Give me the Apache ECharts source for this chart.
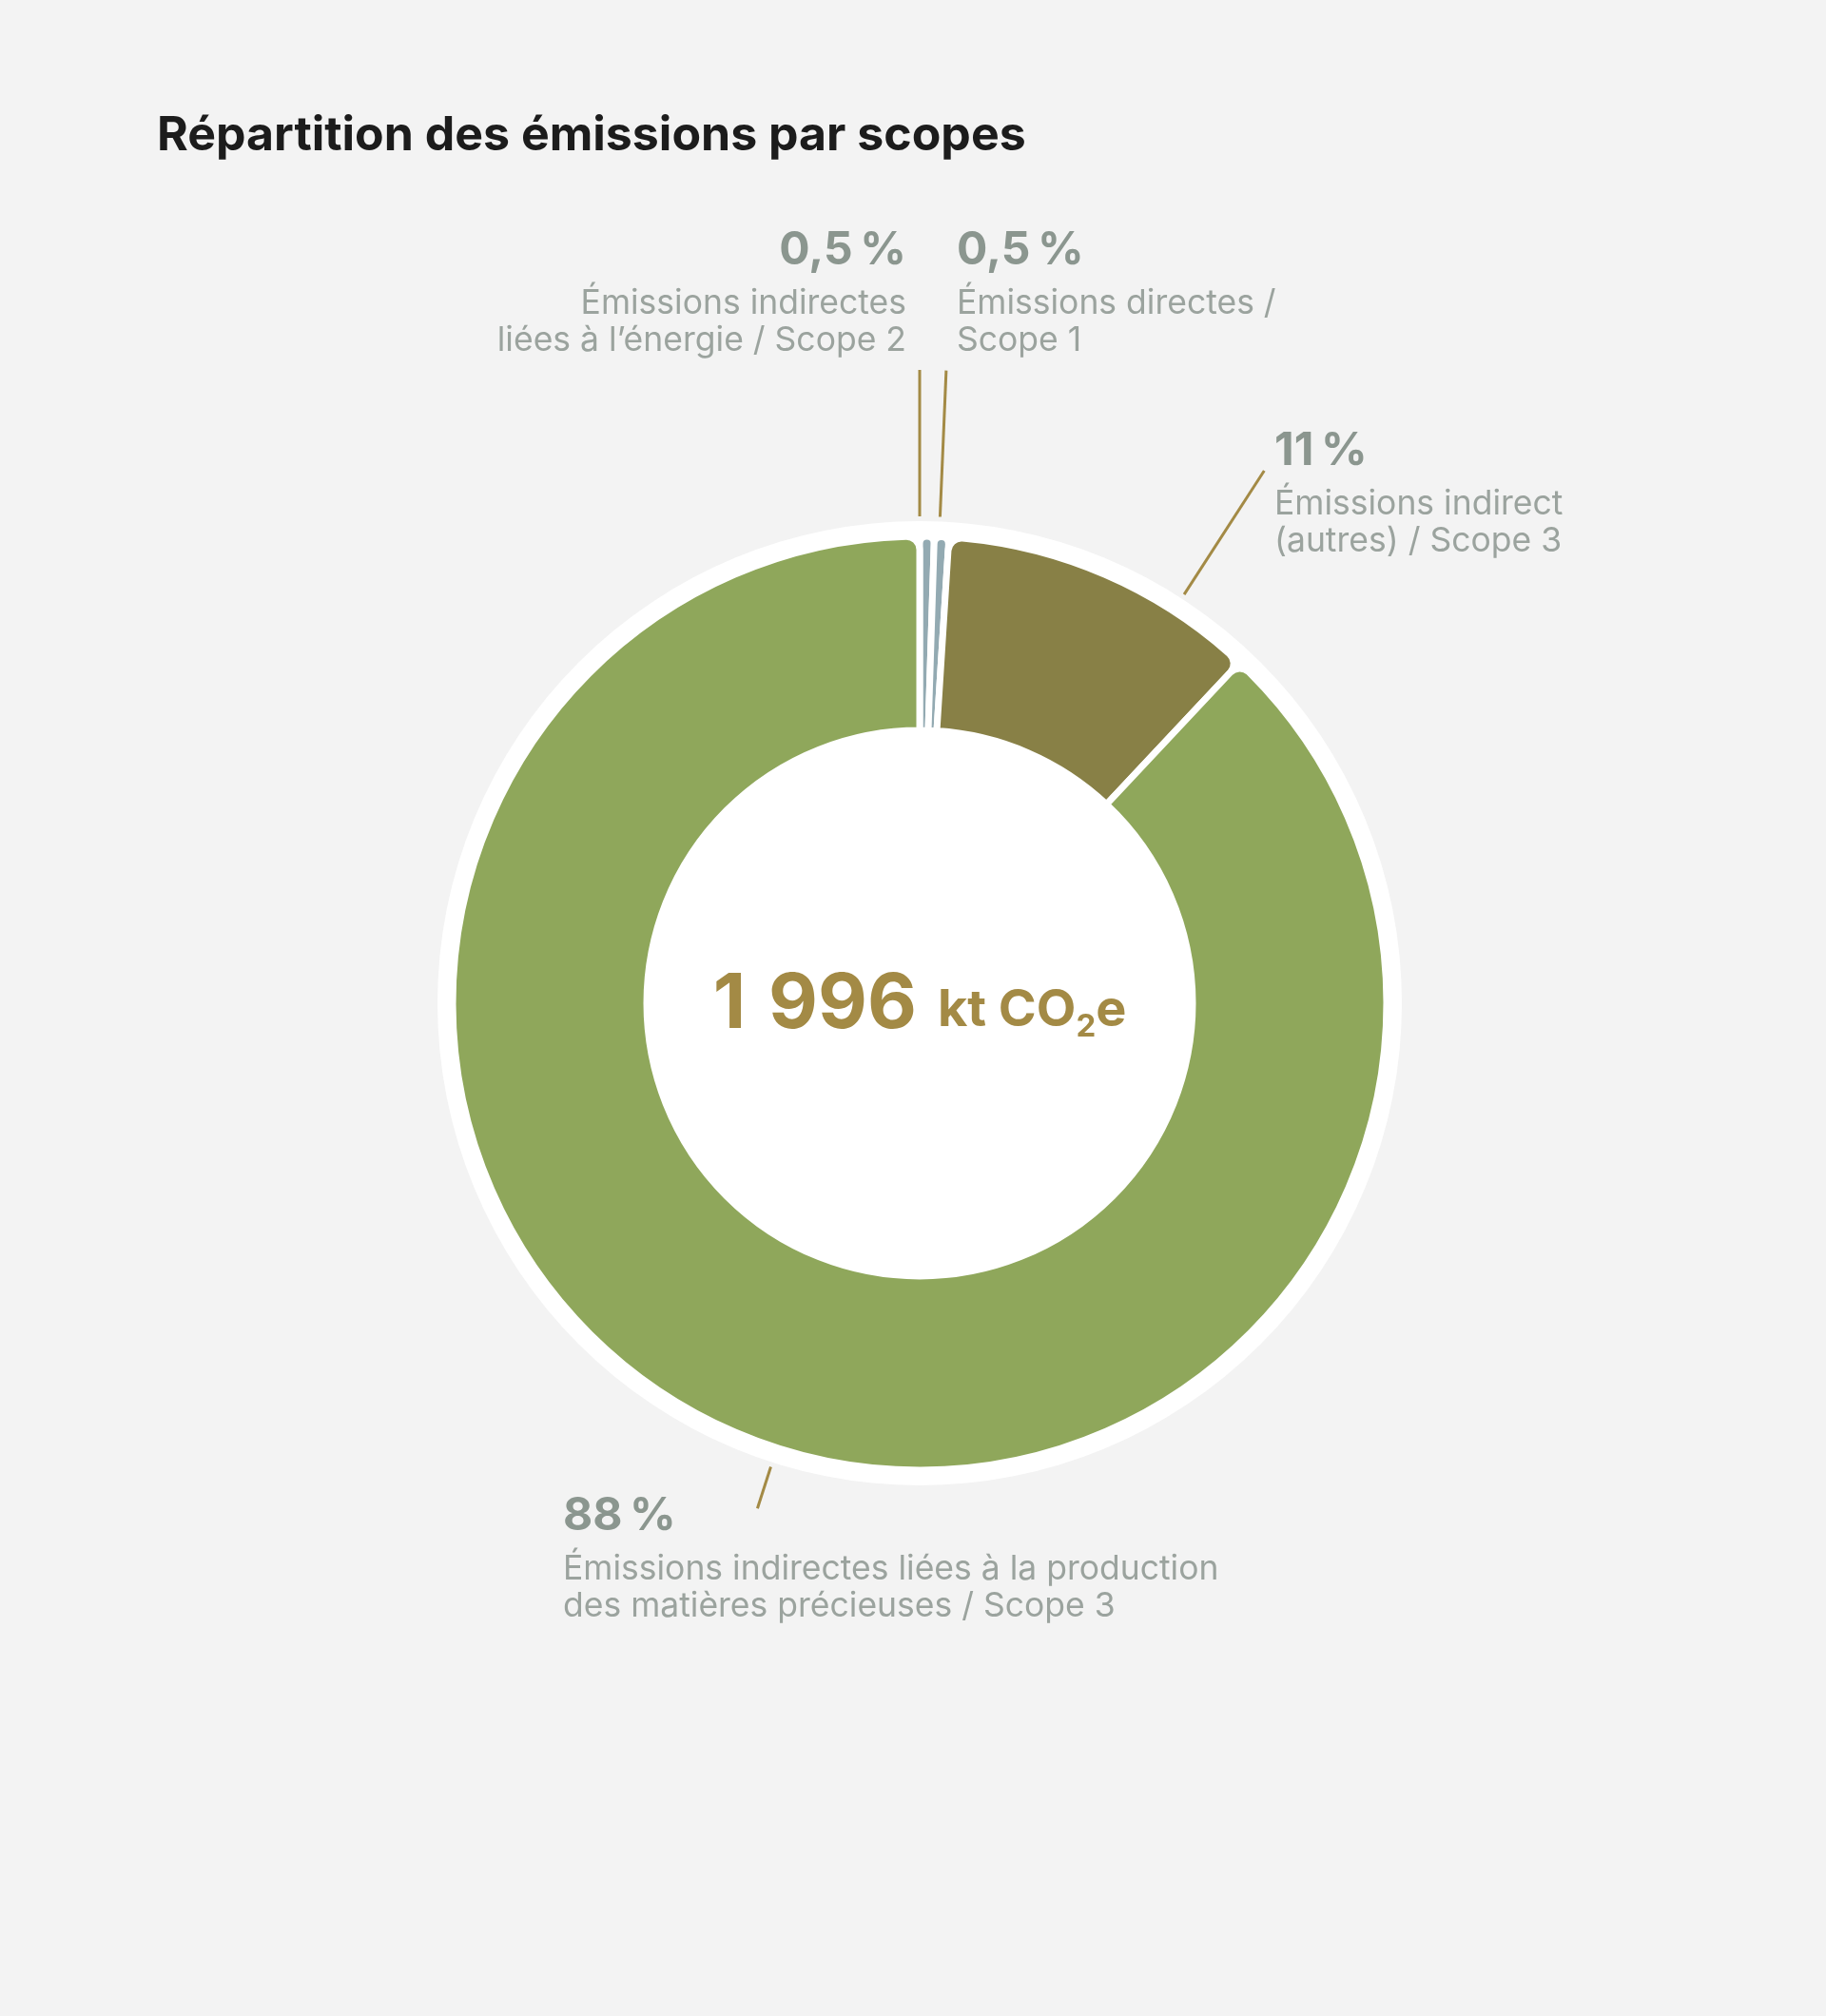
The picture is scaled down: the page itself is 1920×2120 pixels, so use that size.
<!DOCTYPE html>
<html>
<head>
<meta charset="utf-8">
<script src="https://cdn.jsdelivr.net/npm/echarts@6/dist/echarts.min.js"></script>
<style>
html,body{margin:0;padding:0;background:#f3f3f3;}
#chart{width:1920px;height:2120px;}
</style>
</head>
<body>
<div id="chart"></div>
<script>
// ---- data ----
const chartTitle = 'Répartition des émissions par scopes';
const categories = [
  'Émissions indirectes\nliées à l’énergie / Scope 2',
  'Émissions directes /\nScope 1',
  'Émissions indirect\n(autres) / Scope 3',
  'Émissions indirectes liées à la production\ndes matières précieuses / Scope 3'
];
const values = [0.5, 0.5, 11, 88];
const percentLabels = ['0,5\u202F%', '0,5\u202F%', '11\u202F%', '88\u202F%'];
const totalValueParts = ['1', '996'];
const totalUnit = ['kt CO', '2', 'e'];

// ---- styles / layout ----
const sliceColors = ['#93aab2', '#93aab2', '#888046', '#8fa75b'];
const CX = 967, CY = 1055;
const labelAnchors = [
  {x: 953, y: 228, align: 'right', angle: 0, r2: 666},
  {x: 1006, y: 228, align: 'left', angle: 2.4, r2: 666},
  {x: 1340, y: 439, align: 'left', angle: 32.9, r2: 667},
  {x: 592, y: 1559, align: 'left', angle: 197.8, r2: 558}
];
const LINE_R1 = 512;

function polar(angleDeg, r) {
  const a = angleDeg * Math.PI / 180;
  return [CX + r * Math.sin(a), CY - r * Math.cos(a)];
}

const chart = echarts.init(document.getElementById('chart'), null, {renderer: 'canvas'});

const pieData = values.map((v, i) => ({
  value: v,
  name: categories[i],
  itemStyle: {color: sliceColors[i]}
}));

const option = {
  backgroundColor: '#f3f3f3',
  animation: false,
  title: {
    text: chartTitle,
    left: 160,
    top: 113,
    textStyle: {fontFamily: 'Inter', fontWeight: 700, fontSize: 50, color: '#1c1c1c'}
  },
  graphic: [{
    type: 'text',
    x: CX,
    y: CY - 8,
    z: 100,
    style: {
      text: '{n|' + totalValueParts[0] + '}{h| }{n|' + totalValueParts[1] + '}{g| }{u|' + totalUnit[0] + '}{s|' + totalUnit[1] + '}{u|' + totalUnit[2] + '}',
      align: 'center',
      verticalAlign: 'middle',
      rich: {
        n: {fontFamily: 'Inter', fontWeight: 700, fontSize: 80, fill: '#a38a45', verticalAlign: 'bottom', lineHeight: 100},
        h: {fontFamily: 'Inter', fontSize: 40, width: 24, verticalAlign: 'bottom', lineHeight: 100},
        g: {fontFamily: 'Inter', fontSize: 40, width: 22, verticalAlign: 'bottom', lineHeight: 100},
        u: {fontFamily: 'Inter', fontWeight: 700, fontSize: 54, fill: '#a38a45', verticalAlign: 'bottom', lineHeight: 100, padding: [0, 0, 7, 0]},
        s: {fontFamily: 'Inter', fontWeight: 700, fontSize: 33, fill: '#a38a45', verticalAlign: 'bottom', lineHeight: 100}
      }
    }
  }],
  series: [
    {
      type: 'pie',
      name: 'backdrop',
      silent: true,
      z: 1,
      center: [CX, CY],
      radius: [0, 507],
      label: {show: false},
      labelLine: {show: false},
      itemStyle: {color: '#ffffff'},
      emphasis: {disabled: true},
      data: [{value: 1, name: ''}]
    },
    {
      type: 'pie',
      name: 'scopes',
      z: 2,
      center: [CX, CY],
      radius: [287, 491],
      startAngle: 90,
      clockwise: true,
      avoidLabelOverlap: false,
      emphasis: {disabled: true},
      itemStyle: {borderColor: '#ffffff', borderWidth: 7, borderRadius: [0, 14]},
      label: {
        show: true,
        position: 'outside',
        formatter: function (p) {
          const lines = categories[p.dataIndex].split('\n').map(s => '{d|' + s + '}').join('\n');
          return '{p|' + percentLabels[p.dataIndex] + '}\n' + lines;
        },
        rich: {
          p: {fontFamily: 'Inter', fontWeight: 700, fontSize: 48, color: '#8b968f', lineHeight: 72},
          d: {fontFamily: 'Inter', fontWeight: 400, fontSize: 35.5, color: '#9ba39e', lineHeight: 39}
        }
      },
      labelLine: {
        show: true,
        length: 10,
        length2: 10,
        lineStyle: {color: '#a38a45', width: 3}
      },
      labelLayout: function (params) {
        const a = labelAnchors[params.dataIndex];
        const p1 = polar(a.angle, LINE_R1);
        const p2 = polar(a.angle, a.r2);
        return {
          x: a.x,
          y: a.y,
          align: a.align,
          verticalAlign: 'top',
          labelLinePoints: [p1, p2, p2]
        };
      },
      data: pieData
    }
  ]
};
chart.setOption(option);
</script>
</body>
</html>
